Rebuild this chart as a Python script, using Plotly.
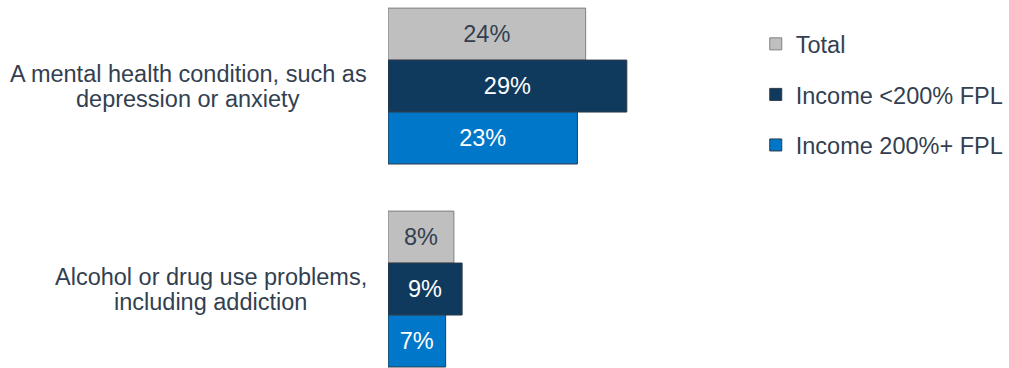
import plotly.graph_objects as go

# Survey share by condition and income group
categories = [
    "A mental health condition, such as<br>depression or anxiety",
    "Alcohol or drug use problems,<br>including addiction",
]
series_names = ["Total", "Income <200% FPL", "Income 200%+ FPL"]
values_total = [24, 8]
values_low_income = [29, 9]
values_high_income = [23, 7]

series_values = [values_total, values_low_income, values_high_income]
fill_colors = ["#BFBFBF", "#0F3A5E", "#0077C8"]
edge_colors = ["#7F7F7F", "#2E3A48", "#2E3A48"]
text_colors = ["#333F50", "#FFFFFF", "#FFFFFF"]

FONT = "Liberation Sans, Arial, sans-serif"
INK = "#333F50"
FONT_SIZE = 23.5
LINE_STEP = 25

# Advance widths (1/1000 em) of the Arial-metric glyphs used in the labels,
# so multi-line labels can be centred as a block with tight line spacing.
GLYPH_W = {
    " ": 278, ",": 278, "A": 667, "a": 556, "b": 556, "c": 500, "d": 556,
    "e": 556, "g": 556, "h": 556, "i": 222, "l": 222, "m": 833, "n": 556,
    "o": 556, "p": 556, "r": 333, "s": 500, "t": 278, "u": 556, "x": 500,
    "y": 500,
}


def text_width(s, size):
    return sum(GLYPH_W.get(ch, 556) for ch in s) * size / 1000.0


positions = list(range(len(categories)))

fig = go.Figure()
for name, vals, fc, ec, tc in zip(series_names, series_values, fill_colors, edge_colors, text_colors):
    fig.add_trace(go.Bar(
        y=positions,
        x=vals,
        name=name,
        orientation="h",
        legendgroup=name,
        marker=dict(color=fc, line=dict(color=ec, width=1)),
        text=[f"{v}%" for v in vals],
        textposition="inside",
        insidetextanchor="middle",
        textangle=0,
        textfont=dict(family=FONT, size=FONT_SIZE, color=tc),
        hoverinfo="skip",
    ))

# Category labels: block right-aligned next to the bars, lines centred within it
LABEL_GAP = 21
for pos, label in zip(positions, categories):
    lines = label.split("<br>")
    block_w = max(text_width(s, FONT_SIZE) for s in lines)
    n = len(lines)
    for i, line in enumerate(lines):
        offset = (i - (n - 1) / 2) * LINE_STEP
        fig.add_annotation(
            x=0, xref="paper", xanchor="center",
            xshift=-LABEL_GAP - block_w / 2,
            y=pos, yref="y", yanchor="middle", yshift=-offset,
            text=line, showarrow=False,
            font=dict(family=FONT, size=FONT_SIZE, color=INK),
        )

fig.update_layout(
    width=1009,
    height=368,
    margin=dict(l=388, r=0, t=0, b=0),
    paper_bgcolor="white",
    plot_bgcolor="white",
    barmode="group",
    bargap=0.232,
    bargroupgap=0,
    showlegend=True,
    legend=dict(
        x=0.597, xanchor="left",
        y=0.94, yanchor="top",
        font=dict(family=FONT, size=FONT_SIZE, color=INK),
        traceorder="grouped",
        tracegroupgap=17,
        bgcolor="rgba(0,0,0,0)",
    ),
    xaxis=dict(range=[0, 74.8], visible=False, fixedrange=True),
    yaxis=dict(range=[1.389, -0.424], visible=False, fixedrange=True),
    font=dict(family=FONT, color=INK),
)

fig.write_html("out.html")
